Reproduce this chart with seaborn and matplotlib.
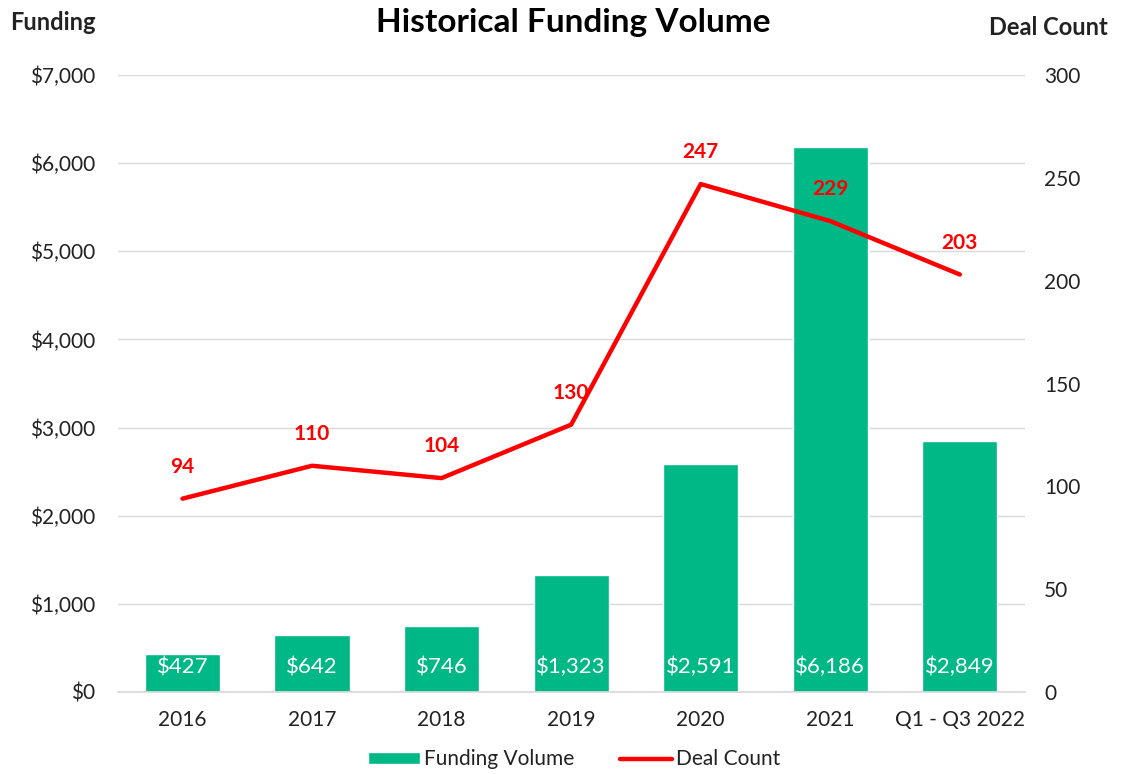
import pandas as pd
import numpy as np
import matplotlib.pyplot as plt
import seaborn as sns
from matplotlib.patches import Patch
from matplotlib.lines import Line2D
from matplotlib.ticker import FuncFormatter, MultipleLocator

sns.set_theme(style="white")
plt.rcParams['font.family'] = ['Lato', 'DejaVu Sans']

# dados
categorias = ['2016', '2017', '2018', '2019', '2020', '2021', 'Q1 - Q3 2022']
funding = [427, 642, 746, 1323, 2591, 6186, 2849]
deals = [94, 110, 104, 130, 247, 229, 203]

verde = '#00B886'
vermelho = '#FF0000'
texto = '#222222'

df = pd.DataFrame({'Periodo': categorias, 'Funding': funding, 'Deals': deals})
df['pos'] = np.arange(len(df))

fig = plt.figure(figsize=(11.21, 7.74), dpi=100)
ax = fig.add_axes([0.105, 0.106, 0.809, 0.797])

sns.barplot(data=df, x='Periodo', y='Funding', color=verde, saturation=1,
            width=0.58, ax=ax, zorder=2)
ax.set_ylim(0, 7000)
ax.yaxis.set_major_locator(MultipleLocator(1000))
ax.yaxis.set_major_formatter(FuncFormatter(lambda v, p: f'${v:,.0f}'))
ax.grid(axis='y', color='#D9D9D9', linewidth=1, zorder=0)
ax.set_axisbelow(True)
ax.set_xlabel('')
ax.set_ylabel('')
for s in ['top', 'right', 'left']:
    ax.spines[s].set_visible(False)
ax.spines['bottom'].set_color('#D9D9D9')
ax.tick_params(axis='y', labelsize=15, colors=texto, length=0, pad=16.5)
ax.tick_params(axis='x', labelsize=15, colors=texto, length=0, pad=13)

# rótulos dentro das barras
for i, v in enumerate(funding):
    ax.text(i, 280, f'${v:,}', ha='center', va='center', color='white',
            fontsize=16, zorder=5)

ax2 = ax.twinx()
sns.lineplot(data=df, x='pos', y='Deals', color=vermelho, linewidth=3.2, ax=ax2)
ax2.set_ylim(0, 300)
ax.set_xlim(-0.5, len(categorias) - 0.5)
ax2.yaxis.set_major_locator(MultipleLocator(50))
ax2.set_ylabel('')
ax2.set_xlabel('')
for s in ['top', 'right', 'left', 'bottom']:
    ax2.spines[s].set_visible(False)
ax2.tick_params(axis='y', labelsize=15, colors=texto, length=0, pad=14)
ax2.grid(False)

for i, v in enumerate(deals):
    ax2.annotate(str(v), (i, v), xytext=(0, 23), textcoords='offset points',
                 ha='center', va='center', color=vermelho, fontsize=15,
                 fontweight='bold')

fig.text(0.511, 0.971, 'Historical Funding Volume', ha='center', va='center',
         fontsize=24, fontweight='bold', color='black')
fig.text(0.009, 0.971, 'Funding', ha='left', va='center', fontsize=17,
         fontweight='bold', color=texto)
fig.text(0.988, 0.965, 'Deal Count', ha='right', va='center', fontsize=17,
         fontweight='bold', color=texto)

handles = [Patch(facecolor=verde, label='Funding Volume'),
           Line2D([0], [0], color=vermelho, linewidth=3.2, label='Deal Count')]
fig.legend(handles=handles, loc='center', bbox_to_anchor=(0.512, 0.019), ncol=2,
           frameon=False, fontsize=15, handlelength=2.5, handleheight=0.5,
           columnspacing=2.2, handletextpad=0.2, labelcolor=texto)

plt.savefig('out.png', dpi=100)
plt.close()
